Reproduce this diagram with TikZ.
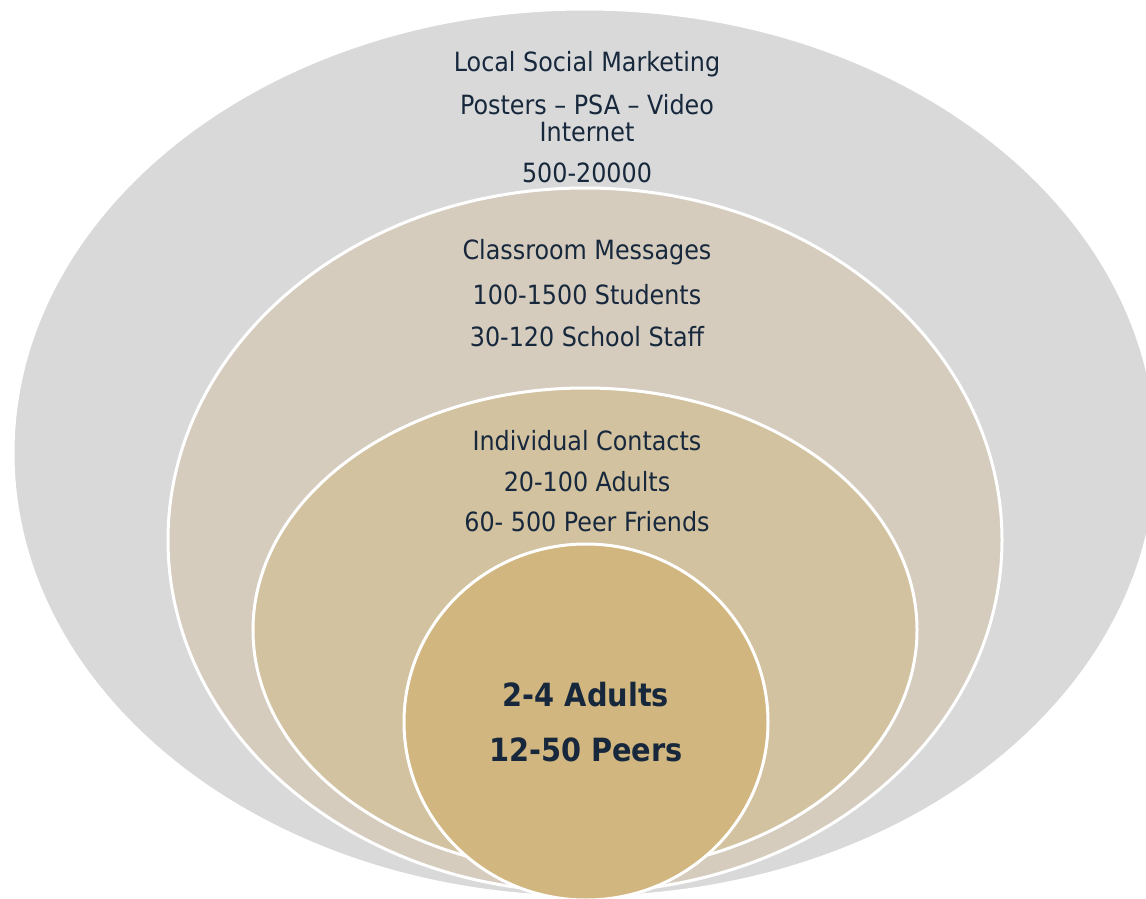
\documentclass[tikz,border=0pt]{standalone}
\usepackage{fontspec}
\setmainfont{DejaVu Sans Condensed}
\begin{document}
\begin{tikzpicture}[x=1pt,y=-1pt,
  ring/.style={fill=#1,draw=white,line width=3pt},
  lbl/.style={text=navy,font=\fontsize{26.5}{28}\selectfont,inner sep=0pt,anchor=center},
  big/.style={text=navy,font=\fontsize{32}{34}\selectfont\bfseries,inner sep=0pt,anchor=center}]
\definecolor{navy}{HTML}{17283C}
\definecolor{ringA}{HTML}{D9D9D9}
\definecolor{ringB}{HTML}{D5CCBE}
\definecolor{ringC}{HTML}{D2C2A0}
\definecolor{ringD}{HTML}{D1B67F}
\useasboundingbox (0,0) rectangle (1146,899);
\clip (0,0) rectangle (1146,899);
% nested rings, all resting on the bottom edge
\draw[ring=ringA] (585,453) ellipse [x radius=572,y radius=444];
\draw[ring=ringB] (585,540) ellipse [x radius=417,y radius=352];
\draw[ring=ringC] (585,630) ellipse [x radius=332,y radius=242];
\draw[ring=ringD] (586,722) ellipse [x radius=182,y radius=178];
% outer ring text
\node[lbl] (m1) at (587,64) {Local Social Marketing};
\node[lbl] (m2) at (587,105) {Posters – PSA – Video};
\node[lbl] (m3) at (587,132) {Internet};
\node[lbl] (m4) at (587,173) {500-20000};
% classroom ring text
\node[lbl] (c1) at (587,252) {Classroom Messages};
\node[lbl] (c2) at (587,295) {100-1500 Students};
\node[lbl] (c3) at (587,337) {30-120 School Staff};
% individual ring text
\node[lbl] (i1) at (587,441) {Individual Contacts};
\node[lbl] (i2) at (587,482) {20-100 Adults};
\node[lbl] (i3) at (587,522) {60- 500 Peer Friends};
% core text
\node[big] (p1) at (586,695) {2-4 Adults};
\node[big] (p2) at (586,750) {12-50 Peers};
\end{tikzpicture}
\end{document}
